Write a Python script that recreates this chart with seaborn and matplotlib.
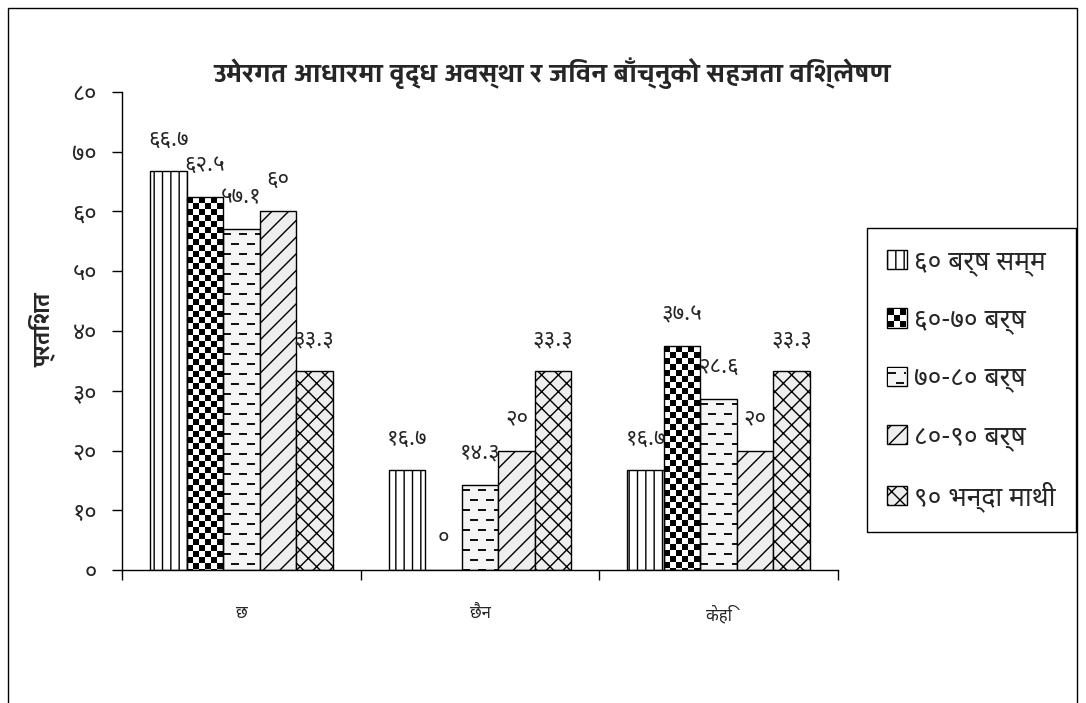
import numpy as np
import pandas as pd
import matplotlib
matplotlib.use("Agg")
import matplotlib.pyplot as plt
import seaborn as sns
from matplotlib import font_manager
from matplotlib.image import BboxImage
from matplotlib.patches import Rectangle
from matplotlib.transforms import Bbox

# ---- data -------------------------------------------------------------
categories = ["छ", "छैन", "केहि"]
groups = ["६० बर्ष सम्म", "६०-७० बर्ष", "७०-८० बर्ष", "८०-९० बर्ष", "९० भन्दा माथी"]
values_upto_60 = [66.7, 16.7, 16.7]
values_60_70 = [62.5, 0, 37.5]
values_70_80 = [57.1, 14.3, 28.6]
values_80_90 = [60, 20, 20]
values_above_90 = [33.3, 33.3, 33.3]
ytick_values = [0, 10, 20, 30, 40, 50, 60, 70, 80]
title = "उमेरगत आधारमा वृद्ध अवस्था र जिवन बाँच्नुको सहजता विश्लेषण"
ylabel = "प्रतिशत"

series = [values_upto_60, values_60_70, values_70_80, values_80_90, values_above_90]

DEVA_DIGITS = str.maketrans("0123456789", "०१२३४५६७८९")


def deva(v):
    return f"{v:g}".translate(DEVA_DIGITS)


# Devanagari-capable families, in order of preference
installed = {f.name for f in font_manager.fontManager.ttflist}


def pick(names):
    return next((n for n in names if n in installed), None)


body_family = pick(["Noto Sans Devanagari", "Hind", "Mukta", "Yantramanav", "Palanquin"])
heading_family = pick(["Yantramanav", "Hind", "Noto Sans Devanagari", "Mukta"])


def fam(name):
    return ([name] if name else []) + ["DejaVu Sans"]


# ---- style ------------------------------------------------------------
sns.set_style("white")
plt.rcParams["font.family"] = fam(body_family)
plt.rcParams["hatch.linewidth"] = 1.0

W, H = 1086, 703
fig = plt.figure(figsize=(W / 100, H / 100), dpi=100)
ax = fig.add_axes([122 / W, 1 - 570 / H, (838 - 122) / W, (570 - 92) / H])

df = pd.DataFrame(
    [(c, g, vals[i]) for g, vals in zip(groups, series) for i, c in enumerate(categories)],
    columns=["category", "group", "value"],
)

sns.barplot(
    data=df, x="category", y="value", hue="group",
    order=categories, hue_order=groups,
    palette=["white"] * len(groups), edgecolor="black", linewidth=1.0,
    width=0.765, saturation=1, errorbar=None, ax=ax,
)
if ax.get_legend() is not None:
    ax.get_legend().remove()

# fills: plain hatches for three series, pixel textures for the other two
fills = [
    dict(face="white", hatch="||"),
    dict(face="none", hatch=None),
    dict(face="none", hatch=None),
    dict(face="#eeeeee", hatch="//"),
    dict(face="#eeeeee", hatch="xx"),
]
for cont, f in zip(ax.containers, fills):
    for p in cont.patches:
        p.set_facecolor(f["face"])
        p.set_hatch(f["hatch"])
        p.set_edgecolor("black")
        p.set_zorder(2)

ax.set_xlim(-0.5, len(categories) - 0.5)
ax.set_ylim(ytick_values[0], ytick_values[-1])

# axes cosmetics
for s in ["top", "right"]:
    ax.spines[s].set_visible(False)
for s in ["left", "bottom"]:
    ax.spines[s].set_color("black")
    ax.spines[s].set_linewidth(1.0)

ax.set_yticks(ytick_values)
ax.set_yticklabels([deva(v) for v in ytick_values])
ax.tick_params(axis="y", direction="out", length=7, width=1, color="black",
               labelsize=17, pad=11, left=True)

ax.set_xticks(np.arange(-0.5, len(categories)))
ax.set_xticklabels([""] * (len(categories) + 1))
ax.set_xticks(np.arange(len(categories)), minor=True)
ax.set_xticklabels(categories, minor=True)
ax.tick_params(axis="x", which="major", direction="out", length=7, width=1,
               color="black", bottom=True)
ax.tick_params(axis="x", which="minor", length=0, labelsize=12, pad=26)
ax.set_xlabel("")
ax.set_ylabel("")

# value labels
for cont, vals in zip(ax.containers, series):
    ax.bar_label(cont, labels=[deva(v) for v in vals], padding=15, fontsize=16)

# legend
leg = ax.legend(
    handles=ax.containers, labels=groups,
    loc="upper left", bbox_to_anchor=(867 / W, 1 - 228 / H),
    bbox_transform=fig.transFigure, frameon=True, fancybox=False,
    edgecolor="black", framealpha=1, fontsize=19,
    handlelength=0.75, handleheight=0.75, handletextpad=0.3,
    labelspacing=1.15, borderpad=0.75, borderaxespad=0,
)
leg.get_frame().set_linewidth(1.0)

# titles
fig.text(552 / W, 1 - 73 / H, title, ha="center", va="center",
         fontsize=19.5, fontweight="bold", family=fam(heading_family))
fig.text(42 / W, 1 - 330 / H, ylabel, ha="center", va="center",
         rotation=90, fontsize=17, fontweight="bold", family=fam(heading_family))

# outer frame of the chart area
fig.add_artist(Rectangle((8 / W, -0.1), (1077 - 8) / W, 1.1 - 8 / H,
                         transform=fig.transFigure, fill=False,
                         edgecolor="black", linewidth=1.0))


# ---- pixel textures ---------------------------------------------------
def checker(h, w, cell=6):
    yy, xx = np.mgrid[0:h, 0:w]
    img = np.full((h, w, 3), 255, np.uint8)
    img[((yy // cell + xx // cell) % 2) == 0] = 0
    return img


def dashes(h, w):
    yy, xx = np.mgrid[0:h, 0:w]
    img = np.full((h, w, 3), 245, np.uint8)
    shift = ((yy // 10) % 2) * 8
    on = ((yy % 10) >= 4) & ((yy % 10) <= 5) & (((xx + shift) % 16) < 8)
    img[on] = 20
    return img


fig.canvas.draw()


def texture_box(bb, inset=0):
    x0 = int(round(bb.x0)) + inset
    x1 = int(round(bb.x1)) - inset
    y0 = int(round(bb.y0)) + inset
    y1 = int(round(bb.y1)) - inset
    return Bbox([[x0, y0], [x1, y1]]), y1 - y0, x1 - x0


for cont, maker in [(ax.containers[1], checker), (ax.containers[2], dashes)]:
    for p in cont.patches:
        box, h, w = texture_box(p.get_window_extent())
        if h <= 0 or w <= 0:
            continue
        im = BboxImage(box, interpolation="nearest", zorder=1.5)
        im.set_data(maker(h, w))
        ax.add_artist(im)

leg_patches = leg.get_patches()
for p, maker in [(leg_patches[1], checker), (leg_patches[2], dashes)]:
    box, h, w = texture_box(p.get_window_extent(), inset=1)
    im = BboxImage(box, interpolation="nearest", zorder=10)
    im.set_data(maker(h, w))
    fig.add_artist(im)

fig.savefig("out.png", dpi=100)
